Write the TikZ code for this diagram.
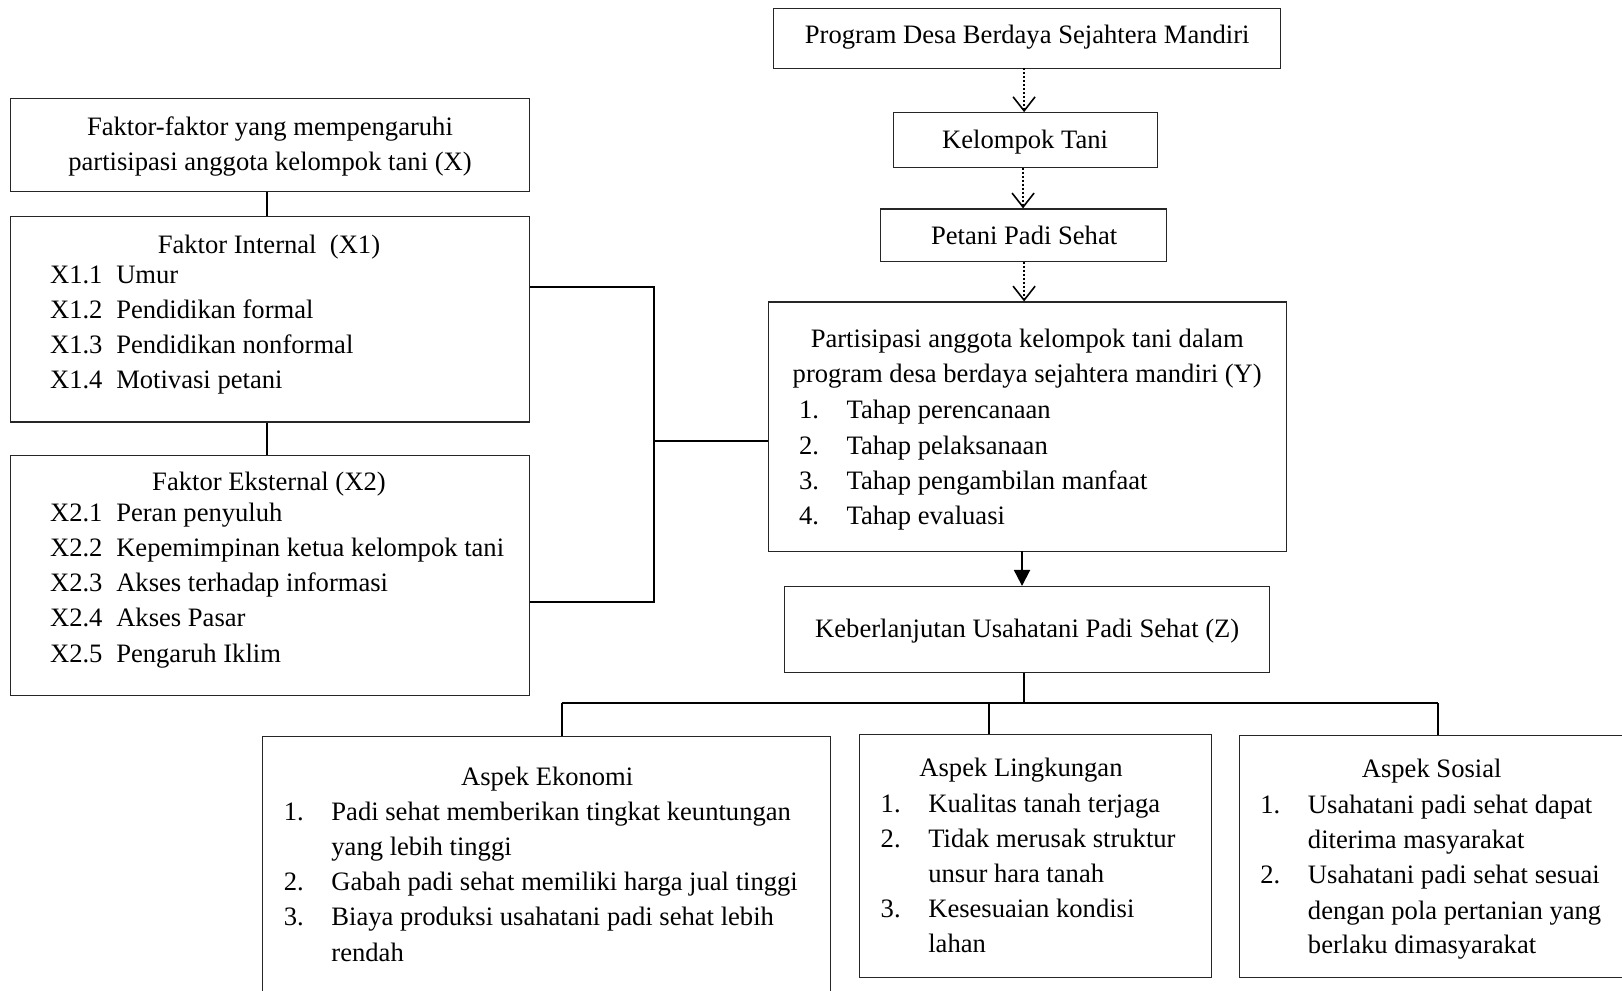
\documentclass[tikz,border=0pt]{standalone}
\usepackage{fontspec}
\setmainfont{Liberation Serif}
\usetikzlibrary{arrows.meta,fit}
\begin{document}
\begin{tikzpicture}[x=0.5172pt, y=-0.5172pt,
  box/.style={draw=black!85, line width=0.6pt, inner sep=0pt},
  conn/.style={draw=black, line width=1pt},
  dotarrow/.style={draw=black, line width=0.9pt, dash pattern=on 1pt off 1pt,
     -{Straight Barb[length=7pt, width=11pt, line width=0.8pt]}},
  solidarrow/.style={draw=black, line width=1pt, -{Triangle[length=8pt, width=8pt]}},
  tc/.style={anchor=base, inner sep=0pt},
  tl/.style={anchor=base west, inner sep=0pt},
  every node/.append style={font=\fontsize{13.3}{16}\selectfont}]
\useasboundingbox (0,0) rectangle (1568,958);
\fill[white] (0,0) rectangle (1568,958);

% ---- boxes ----
\node[box, fit={(748,8)(1238,66)}] (prog) {};
\node[box, fit={(864,109)(1119,162)}] (kel) {};
\node[box, fit={(851,202)(1128,253)}] (pet) {};
\node[box, fit={(743,292)(1244,533)}] (Y) {};
\node[box, fit={(758,567)(1227,650)}] (Z) {};
\node[box, fit={(254,712)(803,990)}] (eko) {};
\node[box, fit={(831,710)(1171,945)}] (lin) {};
\node[box, fit={(1198,711)(1600,945)}] (sos) {};
\node[box, fit={(10,95)(512,185)}] (X) {};
\node[box, fit={(10,209)(512,408)}] (X1) {};
\node[box, fit={(10,440)(512,672)}] (X2) {};

% ---- texts: right column ----
\node[tc] (progT) at (993,42) {Program Desa Berdaya Sejahtera Mandiri};
\node[tc] (kelT) at (991,144) {Kelompok Tani};
\node[tc] (petT) at (990,236) {Petani Padi Sehat};
\node[tc] (yT1) at (993,336) {Partisipasi anggota kelompok tani dalam};
\node[tc] (yT2) at (993,370) {program desa berdaya sejahtera mandiri (Y)};
\foreach \n/\yy/\t in {1/405/Tahap perencanaan, 2/439/Tahap pelaksanaan, 3/473/Tahap pengambilan manfaat, 4/507/Tahap evaluasi}{
  \node[tl] (yN\n) at (772,\yy) {\n.};
  \node[tl] (yI\n) at (818,\yy) {\t};
}
\node[tc] (zT) at (993,616) {Keberlanjutan Usahatani Padi Sehat (Z)};

% ---- texts: left column ----
\node[tc] (xT1) at (261,131) {Faktor-faktor yang mempengaruhi};
\node[tc] (xT2) at (261,165) {partisipasi anggota kelompok tani (X)};
\node[tc] (x1T) at (260,245) {Faktor Internal~~(X1)};
\foreach \n/\yy/\t in {1/274/Umur, 2/308/Pendidikan formal, 3/342/Pendidikan nonformal, 4/376/Motivasi petani}{
  \node[tl] (x1N\n) at (48,\yy) {X1.\n};
  \node[tl] (x1I\n) at (112,\yy) {\t};
}
\node[tc] (x2T) at (260,474) {Faktor Eksternal (X2)};
\foreach \n/\yy/\t in {1/504/Peran penyuluh, 2/538/Kepemimpinan ketua kelompok tani, 3/572/Akses terhadap informasi, 4/606/Akses Pasar, 5/640/Pengaruh Iklim}{
  \node[tl] (x2N\n) at (48,\yy) {X2.\n};
  \node[tl] (x2I\n) at (112,\yy) {\t};
}

% ---- texts: bottom ----
\node[tc] (ekoT) at (529,759) {Aspek Ekonomi};
\node[tl] (ekoN1) at (274,793) {1.};
\node[tl] (ekoI1) at (320,793) {Padi sehat memberikan tingkat keuntungan};
\node[tl] (ekoI1b) at (320,827) {yang lebih tinggi};
\node[tl] (ekoN2) at (274,861) {2.};
\node[tl] (ekoI2) at (320,861) {Gabah padi sehat memiliki harga jual tinggi};
\node[tl] (ekoN3) at (274,895) {3.};
\node[tl] (ekoI3) at (320,895) {Biaya produksi usahatani padi sehat lebih};
\node[tl] (ekoI3b) at (320,929) {rendah};

\node[tc] (linT) at (987,751) {Aspek Lingkungan};
\node[tl] (linN1) at (851,785) {1.};
\node[tl] (linI1) at (897,785) {Kualitas tanah terjaga};
\node[tl] (linN2) at (851,819) {2.};
\node[tl] (linI2) at (897,819) {Tidak merusak struktur};
\node[tl] (linI2b) at (897,853) {unsur hara tanah};
\node[tl] (linN3) at (851,887) {3.};
\node[tl] (linI3) at (897,887) {Kesesuaian kondisi};
\node[tl] (linI3b) at (897,921) {lahan};

\node[tc] (sosT) at (1384,752) {Aspek Sosial};
\node[tl] (sosN1) at (1218,786) {1.};
\node[tl] (sosI1) at (1264,786) {Usahatani padi sehat dapat};
\node[tl] (sosI1b) at (1264,820) {diterima masyarakat};
\node[tl] (sosN2) at (1218,854) {2.};
\node[tl] (sosI2) at (1264,854) {Usahatani padi sehat sesuai};
\node[tl] (sosI2b) at (1264,889) {dengan pola pertanian yang};
\node[tl] (sosI2c) at (1264,922) {berlaku dimasyarakat};

% ---- connectors ----
\coordinate (a1) at (990,66);
\coordinate (a2) at (989,162);
\coordinate (a3) at (990,253);
\draw[dotarrow] (a1) -- (a1 |- kel.north);
\draw[dotarrow] (a2) -- (a2 |- pet.north);
\draw[dotarrow] (a3) -- (a3 |- Y.north);
\coordinate (a4) at (988,533);
\draw[solidarrow] (a4) -- (a4 |- Z.north);

\coordinate (bus) at (990,680);
\coordinate (bL) at (543,680);
\coordinate (bM) at (956,680);
\coordinate (bR) at (1390,680);
\draw[conn] (bus |- Z.south) -- (bus);
\draw[conn] (bL) -- (bR);
\draw[conn] (bL) -- (bL |- eko.north);
\draw[conn] (bM) -- (bM |- lin.north);
\draw[conn] (bR) -- (bR |- sos.north);

\coordinate (xl) at (258,0);
\draw[conn] (xl |- X.south) -- (xl |- X1.north);
\draw[conn] (xl |- X1.south) -- (xl |- X2.north);

\coordinate (j1) at (632,277);
\coordinate (j2) at (632,582);
\coordinate (j3) at (632,426);
\draw[conn] (X1.east |- j1) -- (j1) -- (j2) -- (X2.east |- j2);
\draw[conn] (j3) -- (Y.west |- j3);
\end{tikzpicture}
\end{document}
